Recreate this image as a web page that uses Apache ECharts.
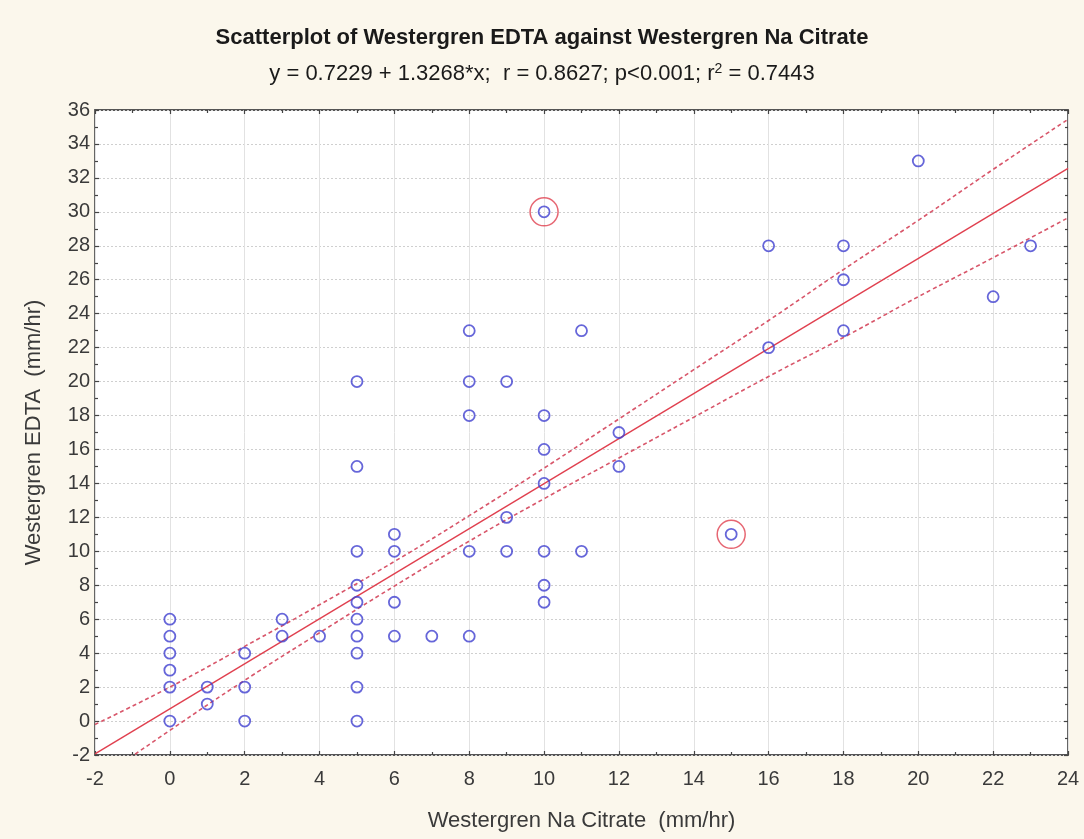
<!DOCTYPE html>
<html>
<head>
<meta charset="utf-8">
<title>Westergren EDTA vs Na Citrate</title>
<script src="https://cdn.jsdelivr.net/npm/echarts@6/dist/echarts.min.js"></script>
<style>
  html, body { margin: 0; padding: 0; background: #fbf7ec; }
  #chart { width: 1084px; height: 839px; }
</style>
</head>
<body>
<div id="chart"></div>
<script>
// Paired observations (mm/hr): Na Citrate on x, EDTA on y
const citrate = [
  0, 0, 0, 0, 0, 0,
  1, 1,
  2, 2, 2,
  3, 3,
  4,
  5, 5, 5, 5, 5, 5, 5, 5, 5, 5,
  6, 6, 6, 6,
  7,
  8, 8, 8, 8, 8,
  9, 9, 9,
  10, 10, 10, 10, 10, 10, 10,
  11, 11,
  12, 12,
  15,
  16, 16,
  18, 18, 18,
  20,
  22,
  23
];
const edta = [
  0, 2, 3, 4, 5, 6,
  1, 2,
  0, 2, 4,
  5, 6,
  5,
  0, 2, 4, 5, 6, 7, 8, 10, 15, 20,
  5, 7, 10, 11,
  5,
  5, 10, 18, 20, 23,
  10, 12, 20,
  7, 8, 10, 14, 16, 18, 30,
  10, 23,
  15, 17,
  11,
  22, 28,
  23, 26, 28,
  33,
  25,
  28
];

// Highlighted observations
const outlierCitrate = [10, 15];
const outlierEdta = [30, 11];

// Fitted regression: y = a + b*x
const intercept = 0.7229;
const slope = 1.3268;
const rValue = '0.8627';
const pText = 'p<0.001';
const r2Value = '0.7443';

// 95% confidence band for the fitted line
const bandX     = [-2,   0,    2,   4,    6,    8,    10,   12,   14,   16,   18,   20,   22,   24];
const bandUpper = [-0.2, 2.0,  4.4, 6.85, 9.4,  12.1, 14.9, 17.8, 20.7, 23.6, 26.6, 29.5, 32.5, 35.45];
const bandLower = [-3.6, -0.55, 2.4, 5.2, 7.95, 10.6, 13.1, 15.5, 17.9, 20.3, 22.6, 25.0, 27.3, 29.65];

// Axis ranges
const xMin = -2, xMax = 24, xStep = 2;
const yMin = -2, yMax = 36, yStep = 2;

const titleText = 'Scatterplot of Westergren EDTA against Westergren Na Citrate';
const xName = 'Westergren Na Citrate  (mm/hr)';
const yName = 'Westergren EDTA  (mm/hr)';

const points = citrate.map((x, i) => [x, edta[i]]);
const outliers = outlierCitrate.map((x, i) => [x, outlierEdta[i]]);
const fitLine = [xMin, xMax].map(x => [x, intercept + slope * x]);
const upper = bandX.map((x, i) => [x, bandUpper[i]]);
const lower = bandX.map((x, i) => [x, bandLower[i]]);

const FONT = '"Liberation Sans", Arial, sans-serif';
const RED = '#e0404f';
const BAND = '#d8566a';
const BLUE = '#4040d0';
const TEXT = '#3a3a3a';

const baseAxis = {
  axisLine: { show: false, onZero: false },
  axisTick: { show: true, inside: true, length: 4, lineStyle: { color: '#444', width: 1.2 } },
  minorTick: { show: true, splitNumber: 2, length: 3, lineStyle: { color: '#444', width: 1.2 } }
};

const chart = echarts.init(document.getElementById('chart'), null, { renderer: 'canvas' });
chart.setOption({
  backgroundColor: '#fbf7ec',
  animation: false,
  title: {
    text: titleText,
    subtext: 'y = ' + intercept + ' + ' + slope + '*x;  r = ' + rValue + '; ' + pText + '; r{sup|2} = ' + r2Value,
    left: 'center',
    top: 22,
    itemGap: 13,
    textStyle: { fontFamily: FONT, fontSize: 22, fontWeight: 'bold', color: '#1a1a1a' },
    subtextStyle: {
      fontFamily: FONT, fontSize: 22, color: '#1a1a1a',
      rich: { sup: { fontFamily: FONT, fontSize: 14, color: '#1a1a1a', verticalAlign: 'top', padding: [0, 0, 9, 0] } }
    }
  },
  grid: {
    left: 95, right: 16, top: 110, bottom: 84,
    show: true, backgroundColor: '#ffffff', borderColor: '#555', borderWidth: 1.8
  },
  xAxis: [
    Object.assign({}, baseAxis, {
      type: 'value', min: xMin, max: xMax, interval: xStep,
      name: xName, nameLocation: 'middle', nameGap: 55,
      nameTextStyle: { fontFamily: FONT, fontSize: 22, color: TEXT },
      axisLabel: { fontFamily: FONT, fontSize: 20, color: TEXT, margin: 14 },
      splitLine: { show: true, lineStyle: { color: '#e2e2e2', width: 1 } }
    }),
    Object.assign({}, baseAxis, {
      type: 'value', min: xMin, max: xMax, interval: xStep, position: 'top',
      axisLabel: { show: false }, splitLine: { show: false }
    })
  ],
  yAxis: [
    Object.assign({}, baseAxis, {
      type: 'value', min: yMin, max: yMax, interval: yStep,
      name: yName, nameLocation: 'middle', nameGap: 50,
      nameTextStyle: { fontFamily: FONT, fontSize: 22, color: TEXT },
      axisLabel: { fontFamily: FONT, fontSize: 20, color: TEXT, margin: 5 },
      splitLine: { show: true, lineStyle: { color: '#cfcfcf', width: 1, type: [2, 2] } }
    }),
    Object.assign({}, baseAxis, {
      type: 'value', min: yMin, max: yMax, interval: yStep, position: 'right',
      axisLabel: { show: false }, splitLine: { show: false }
    })
  ],
  series: [
    {
      name: 'Upper 95%', type: 'line', data: upper, smooth: true, symbol: 'none', clip: true,
      lineStyle: { color: BAND, width: 1.6, type: [4, 3] }, z: 3
    },
    {
      name: 'Lower 95%', type: 'line', data: lower, smooth: true, symbol: 'none', clip: true,
      lineStyle: { color: BAND, width: 1.6, type: [4, 3] }, z: 3
    },
    {
      name: 'Fit', type: 'line', data: fitLine, symbol: 'none', clip: true,
      lineStyle: { color: RED, width: 1.4 }, z: 3
    },
    {
      name: 'Observations', type: 'scatter', data: points, symbol: 'circle', symbolSize: 11,
      itemStyle: { color: 'rgba(255,255,255,0)', borderColor: BLUE, borderWidth: 1.8 }, z: 4
    },
    {
      name: 'Highlighted', type: 'scatter', data: outliers, symbol: 'circle', symbolSize: 28,
      itemStyle: { color: 'rgba(255,255,255,0)', borderColor: RED, borderWidth: 1.5 }, z: 5
    }
  ]
});
</script>
</body>
</html>
